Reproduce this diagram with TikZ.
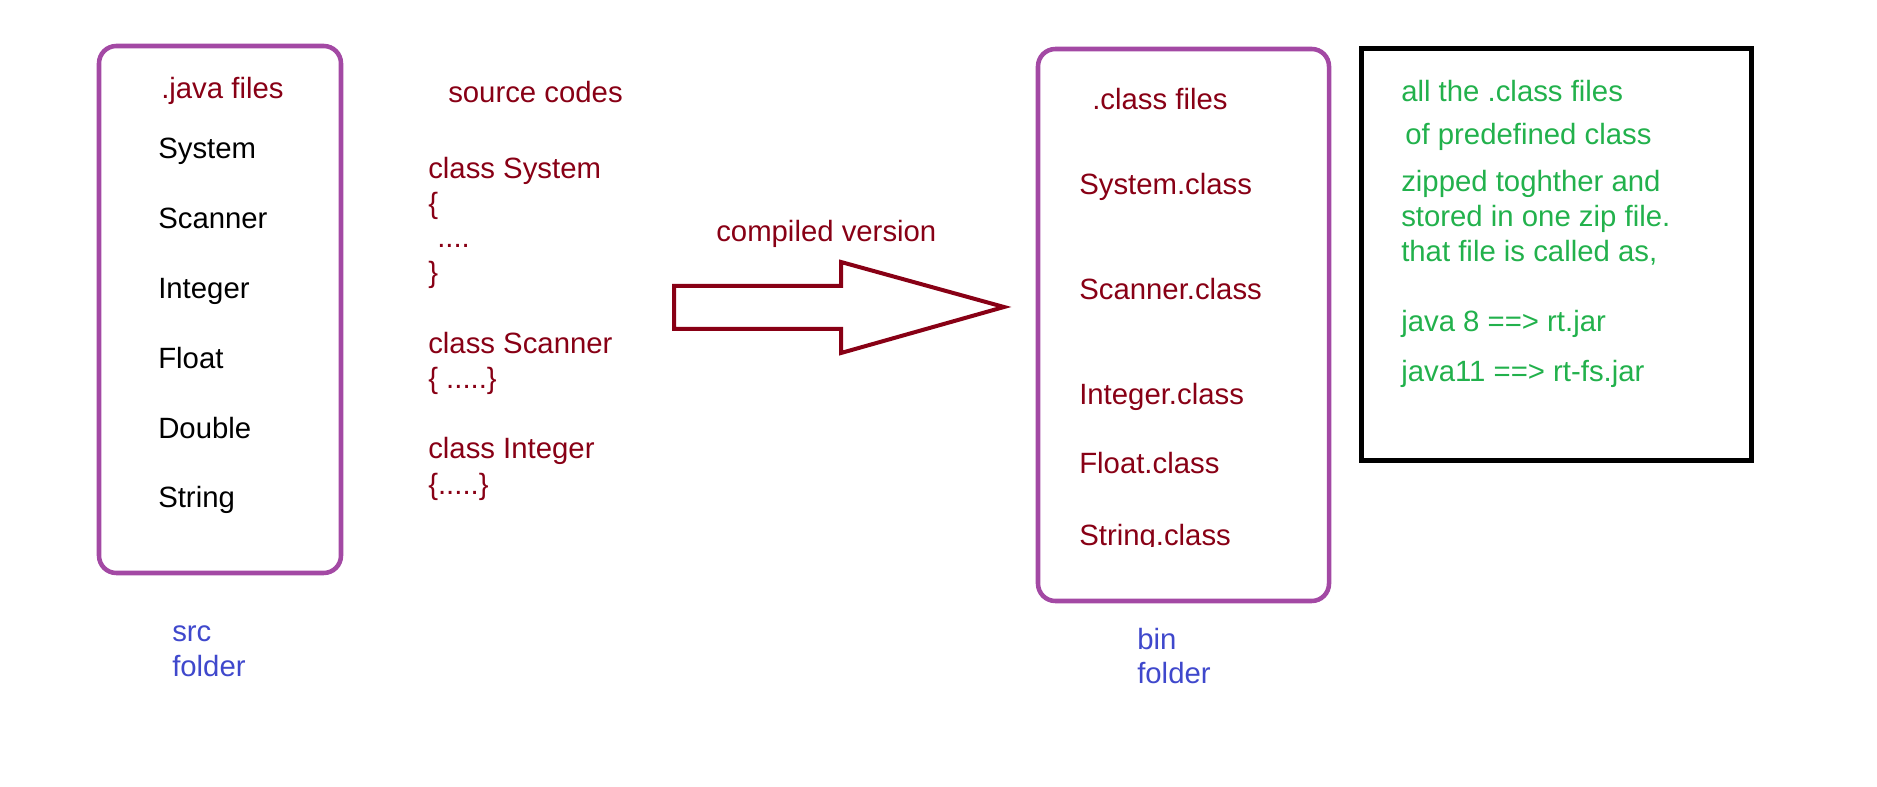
\documentclass[tikz,border=0pt]{standalone}
\usepackage{fontspec}
\setmainfont{Liberation Sans}
\definecolor{paintred}{HTML}{880015}
\definecolor{paintpurple}{HTML}{A349A4}
\definecolor{paintgreen}{HTML}{22B14C}
\definecolor{paintblue}{HTML}{3F48CC}

\begin{document}
\begin{tikzpicture}[x=0.75pt, y=-0.75pt,
    every node/.style={inner sep=0pt, anchor=base west, font=\fontsize{22}{26}\selectfont},
    folderbox/.style={draw=paintpurple, line width=3.4pt, rounded corners=13pt},
    redtext/.style={text=paintred},
    notetext/.style={text=paintgreen},
    foldertext/.style={text=paintblue}]
    \useasboundingbox (0,0) rectangle (1877,787);

    % src folder with the .java files
    \draw[folderbox] (99,46) rectangle (341,573);
    \node[redtext] (javahead) at (161,99) {.java files};
    \foreach \n [count=\i from 0] in {System,Scanner,Integer,Float,Double,String}
        \node (java\n) at (158,159+69.8*\i) {\n};
    \node[foldertext] (srclabel) at (172,641) {src};
    \node[foldertext] (srcfolder) at (172,676) {folder};

    % source codes
    \node[redtext] (codehead) at (448,103) {source codes};
    \node[redtext] (codeA) at (428,179) {class System};
    \node[redtext] (codeB) at (428,214) {\{};
    \node[redtext] (codeC) at (437,248) {....};
    \node[redtext] (codeD) at (428,283) {\}};
    \node[redtext] (codeE) at (428,354) {class Scanner};
    \node[redtext] (codeF) at (428,389) {\{ .....\}};
    \node[redtext] (codeG) at (428,459) {class Integer};
    \node[redtext] (codeH) at (428,494) {\{.....\}};

    % big hollow arrow
    \draw[paintred, line width=3pt] (674,286) -- (841,286) -- (841,262) -- (1004,307)
        -- (841,353) -- (841,329) -- (674,329) -- cycle;
    \node[redtext] (compiled) at (716,242) {compiled version};

    % bin folder with the .class files
    \draw[folderbox] (1038,49) rectangle (1329,601);
    \node[redtext] (classhead) at (1092,110) {.class files};
    \node[redtext] (clsSystem) at (1079,195) {System.class};
    \node[redtext] (clsScanner) at (1079,300) {Scanner.class};
    \node[redtext] (clsInteger) at (1079,405) {Integer.class};
    \node[redtext] (clsFloat) at (1079,474) {Float.class};
    \begin{scope}
        \clip (1060,505) rectangle (1320,546);
        \node[redtext] (clsString) at (1079,545) {String.class};
    \end{scope}
    \node[foldertext] (binlabel) at (1137,649) {bin};
    \node[foldertext] (binfolder) at (1137,683) {folder};

    % note on rt.jar
    \draw[line width=3.75pt] (1361,49) rectangle (1751,461);
    \node[notetext] (noteA) at (1401,102) {all the .class files};
    \node[notetext] (noteB) at (1405,145) {of predefined class};
    \node[notetext] (noteC) at (1401,192) {zipped toghther and};
    \node[notetext] (noteD) at (1401,227) {stored in one zip file.};
    \node[notetext] (noteE) at (1401,262) {that file is called as,};
    \node[notetext] (noteF) at (1401,332) {java 8 ==> rt.jar};
    \node[notetext] (noteG) at (1401,382) {java11 ==> rt-fs.jar};
\end{tikzpicture}
\end{document}
